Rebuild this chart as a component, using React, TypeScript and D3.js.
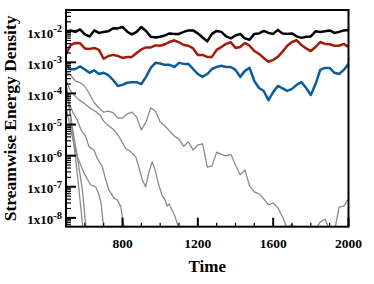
import * as d3 from "d3";

// time grid shared by the three dominant modes and the longest decaying mode
const times = [
  500, 525, 550, 575, 600, 625, 650, 675, 700, 725,
  750, 775, 800, 825, 850, 875, 900, 925, 950, 975,
  1000, 1025, 1050, 1075, 1100, 1125, 1150, 1175, 1200, 1225,
  1250, 1275, 1300, 1325, 1350, 1375, 1400, 1425, 1450, 1475,
  1500, 1525, 1550, 1575, 1600, 1625, 1650, 1675, 1700, 1725,
  1750, 1775, 1800, 1825, 1850, 1875, 1900, 1925, 1950, 1975, 2000,
];

// black
const modeA = [
  9.7e-3, 1.06e-2, 9.5e-3, 1.14e-2, 7.9e-3, 6.8e-3, 1.06e-2, 8.8e-3, 9.5e-3, 9.9e-3,
  1.25e-2, 1.23e-2, 1.37e-2, 9.6e-3, 7.9e-3, 9.5e-3, 1.37e-2, 1.02e-2, 6.6e-3, 6.3e-3,
  6.6e-3, 7.3e-3, 8.5e-3, 8.2e-3, 8.2e-3, 9.5e-3, 1.06e-2, 1.06e-2, 8.5e-3, 6.3e-3,
  4.7e-3, 8.2e-3, 1.02e-2, 9.5e-3, 6.8e-3, 5.9e-3, 7.3e-3, 8.2e-3, 5.9e-3, 5.3e-3,
  8.2e-3, 8.5e-3, 1.02e-2, 8.8e-3, 8.2e-3, 1.1e-2, 8.5e-3, 8.2e-3, 8.5e-3, 6.8e-3,
  6.1e-3, 6.6e-3, 6.8e-3, 9.9e-3, 9.5e-3, 9.9e-3, 1.06e-2, 8.8e-3, 9.5e-3, 1.06e-2, 1.1e-2,
];

// red
const modeB = [
  1.86e-3, 3.6e-3, 4.2e-3, 4.1e-3, 2.8e-3, 2.7e-3, 2.9e-3, 2.5e-3, 1.3e-3, 1.6e-3,
  1.73e-3, 1.6e-3, 1.38e-3, 1.49e-3, 1.49e-3, 2.0e-3, 2.6e-3, 3.0e-3, 3.0e-3, 3.5e-3,
  3.4e-3, 3.8e-3, 4.5e-3, 5.1e-3, 4.4e-3, 3.6e-3, 3.4e-3, 2.8e-3, 1.73e-3, 1.73e-3,
  1.49e-3, 1.49e-3, 2.5e-3, 3.1e-3, 3.9e-3, 4.4e-3, 2.9e-3, 3.1e-3, 4.2e-3, 3.4e-3,
  2.3e-3, 1.86e-3, 1.38e-3, 1.03e-3, 1.2e-3, 1.49e-3, 2.2e-3, 3.4e-3, 4.5e-3, 5.1e-3,
  3.6e-3, 2.8e-3, 2.3e-3, 3.1e-3, 4.5e-3, 3.9e-3, 3.8e-3, 3.4e-3, 3.4e-3, 3.9e-3, 3.1e-3,
];

// blue
const modeC = [
  8.3e-4, 5.9e-4, 6.1e-4, 7.4e-4, 5.9e-4, 4.6e-4, 5.5e-4, 4.2e-4, 4.6e-4, 3.9e-4,
  2.7e-4, 1.74e-4, 1.88e-4, 2.2e-4, 2.3e-4, 2.3e-4, 2.0e-4, 3.4e-4, 6.6e-4, 9.6e-4,
  9.2e-4, 8.3e-4, 8.3e-4, 7.1e-4, 9.6e-4, 8.9e-4, 8.9e-4, 6.1e-4, 4.2e-4, 3.4e-4,
  4.2e-4, 6.1e-4, 7.1e-4, 7.7e-4, 7.1e-4, 7.1e-4, 5.7e-4, 3.4e-4, 5.3e-4, 6.6e-4,
  2.5e-4, 1.5e-4, 1.2e-4, 6.1e-5, 1.1e-4, 1.74e-4, 1.45e-4, 1.2e-4, 1.4e-4, 1.88e-4,
  2.3e-4, 1.5e-4, 8.9e-5, 2.0e-4, 5.7e-4, 6.6e-4, 6.6e-4, 4.6e-4, 4.2e-4, 5.7e-4, 8.9e-4,
];

// grey, longest lived
const decay1 = [
  4.9e-4, 3.9e-4, 2.5e-4, 2.2e-4, 1.7e-4, 9.6e-5, 5.0e-5, 3.4e-5, 2.5e-5, 2.7e-5,
  2.4e-5, 1.6e-5, 1.6e-5, 2.2e-5, 2.5e-5, 1.76e-5, 6.7e-6, 1.2e-5, 3.4e-5, 2.7e-5,
  1.2e-5, 9.0e-6, 6.2e-6, 4.3e-6, 3.4e-6, 2.0e-6, 2.8e-6, 1.5e-6, 2.2e-6, 2.4e-6,
  4.3e-7, 4.7e-7, 1.3e-6, 1.1e-6, 9.8e-7, 1.1e-6, 5.0e-7, 2.4e-7, 3.5e-7, 1.06e-7,
  6.8e-8, 5.9e-8, 4.1e-8, 2.6e-8, 3.0e-8, 2.1e-8, 1.07e-8, 4.4e-9, 6.4e-9, 3.0e-9,
  2.4e-9, 2.6e-9, 2.6e-9, 4.1e-9, 7.4e-9, 9.2e-9, 4.1e-9, 3.5e-9, 2.2e-8, 2.4e-8, 4.1e-8,
];

// other grey modes, [time, energy]
const decay2: [number, number][] = [
  [500, 2.7e-4], [521, 1.3e-4], [542, 9.0e-5], [569, 6.2e-5], [596, 4.8e-5], [627, 3.4e-5],
  [658, 2.6e-5], [681, 2.0e-5], [702, 1.24e-5], [728, 9.0e-6], [755, 6.7e-6], [781, 4.1e-6],
  [797, 2.8e-6], [817, 1.7e-6], [840, 1.4e-6], [870, 9.3e-7], [888, 4.0e-7], [905, 1.66e-7],
  [923, 9.9e-8], [941, 3.0e-7], [957, 6.3e-7], [973, 3.5e-7], [990, 1.3e-7], [1011, 5.1e-8],
  [1026, 3.8e-8], [1036, 2.4e-8], [1047, 2.8e-8], [1063, 1.8e-8], [1079, 1.1e-8],
  [1095, 5.5e-9], [1111, 3.0e-9],
];
const decay3: [number, number][] = [
  [500, 9.0e-5], [516, 5.0e-5], [537, 2.4e-5], [560, 1.4e-5], [580, 6.7e-6], [605, 4.1e-6],
  [622, 1.95e-6], [649, 1.5e-6], [666, 8.2e-7], [693, 4.4e-7], [711, 1.66e-7], [728, 7.9e-8],
  [755, 4.3e-8], [772, 3.8e-8], [791, 2.3e-8], [799, 1.1e-8], [808, 5.2e-9], [816, 2.6e-9],
];
const decay4: [number, number][] = [
  [500, 3.4e-5], [507, 2.3e-5], [533, 4.1e-6], [560, 9.3e-7], [596, 2.7e-7], [631, 1.14e-7],
  [658, 1.0e-7], [675, 5.5e-8], [686, 3.0e-8], [699, 5.5e-9], [704, 2.6e-9],
];
const decay5: [number, number][] = [
  [500, 2.3e-4], [525, 1.4e-5], [552, 7.3e-7], [569, 7.9e-8], [587, 6.7e-9], [592, 3.0e-9],
];
const decay6: [number, number][] = [
  [500, 1.74e-4], [507, 1.3e-4], [533, 8.6e-6], [560, 9.3e-7], [587, 7.9e-8], [605, 5.2e-9],
  [609, 2.6e-9],
];

const yTicks = [1e-2, 1e-3, 1e-4, 1e-5, 1e-6, 1e-7, 1e-8];
const yTickExp = ["-2", "-3", "-4", "-5", "-6", "-7", "-8"];
const xTicks = [800, 1200, 1600, 2000];

const W = 374;
const H = 284;
const left = 66;
const right = 348.5;
const top = 10;
const bottom = 226.7;
const font = "'Liberation Serif', 'Times New Roman', serif";

export default function App() {
  const x = d3.scaleLinear().domain([500, 2000]).range([left, right]);
  const y = d3.scaleLog().domain([5.2e-9, 4.8e-2]).range([bottom, top]);
  const line = d3
    .line<[number, number]>()
    .x((d) => x(d[0]))
    .y((d) => y(d[1]));
  const onGrid = (vals: number[]) =>
    times.map((t, i) => [t, vals[i]] as [number, number]);

  const greys = [onGrid(decay1), decay2, decay3, decay4, decay5, decay6];
  const minorY = y.ticks().filter((v) => !yTicks.some((m) => Math.abs(m - v) / m < 1e-6));
  const minorX = x.ticks(15).filter((t) => !xTicks.includes(t) && t > 500);

  return (
    <svg
      width={W}
      height={H}
      style={{ position: "absolute", left: 0, top: 0, background: "#fff" }}
    >
      <defs>
        <clipPath id="plot">
          <rect x={left} y={top} width={right - left} height={bottom - top} />
        </clipPath>
      </defs>

      <g clipPath="url(#plot)" fill="none" strokeLinejoin="round">
        {greys.map((g, i) => (
          <path key={i} d={line(g) ?? ""} stroke="#8a8a8a" strokeWidth={1.3} />
        ))}
        <path d={line(onGrid(modeC)) ?? ""} stroke="#0d5c9c" strokeWidth={2.5} />
        <path d={line(onGrid(modeB)) ?? ""} stroke="#a31a08" strokeWidth={2.5} />
        <path d={line(onGrid(modeA)) ?? ""} stroke="#000" strokeWidth={2.5} />
      </g>

      {/* y ticks */}
      {minorY.map((v, i) => (
        <line key={"my" + i} x1={left} x2={left + 5} y1={y(v)} y2={y(v)} stroke="#000" strokeWidth={1.2} />
      ))}
      {yTicks.map((v) => (
        <line key={"Y" + v} x1={left} x2={left + 10} y1={y(v)} y2={y(v)} stroke="#000" strokeWidth={2} />
      ))}
      {/* x ticks */}
      {minorX.map((t) => (
        <line key={"mx" + t} x1={x(t)} x2={x(t)} y1={bottom} y2={bottom - 4} stroke="#000" strokeWidth={1.2} />
      ))}
      {xTicks.map((t) => (
        <line key={"X" + t} x1={x(t)} x2={x(t)} y1={bottom} y2={bottom - 9} stroke="#000" strokeWidth={2} />
      ))}

      <rect
        x={left}
        y={top}
        width={right - left}
        height={bottom - top}
        fill="none"
        stroke="#000"
        strokeWidth={2}
      />

      <g fontFamily={font} fontWeight="bold" fill="#000">
        {yTicks.map((v, i) => (
          <text key={"yl" + v} x={62} y={y(v) + 6.5} textAnchor="end" fontSize={13}>
            1x10
            <tspan dy={-5.5} fontSize={10.5}>
              {yTickExp[i]}
            </tspan>
          </text>
        ))}
        {xTicks.map((t) => (
          <text key={"xl" + t} x={x(t)} y={248} textAnchor="middle" fontSize={13.5}>
            {t}
          </text>
        ))}
        <text x={(left + right) / 2} y={272} textAnchor="middle" fontSize={17}>
          Time
        </text>
        <text
          transform={`translate(15.5,${(top + bottom) / 2}) rotate(-90)`}
          textAnchor="middle"
          fontSize={17.5}
        >
          Streamwise Energy Density
        </text>
      </g>
    </svg>
  );
}
